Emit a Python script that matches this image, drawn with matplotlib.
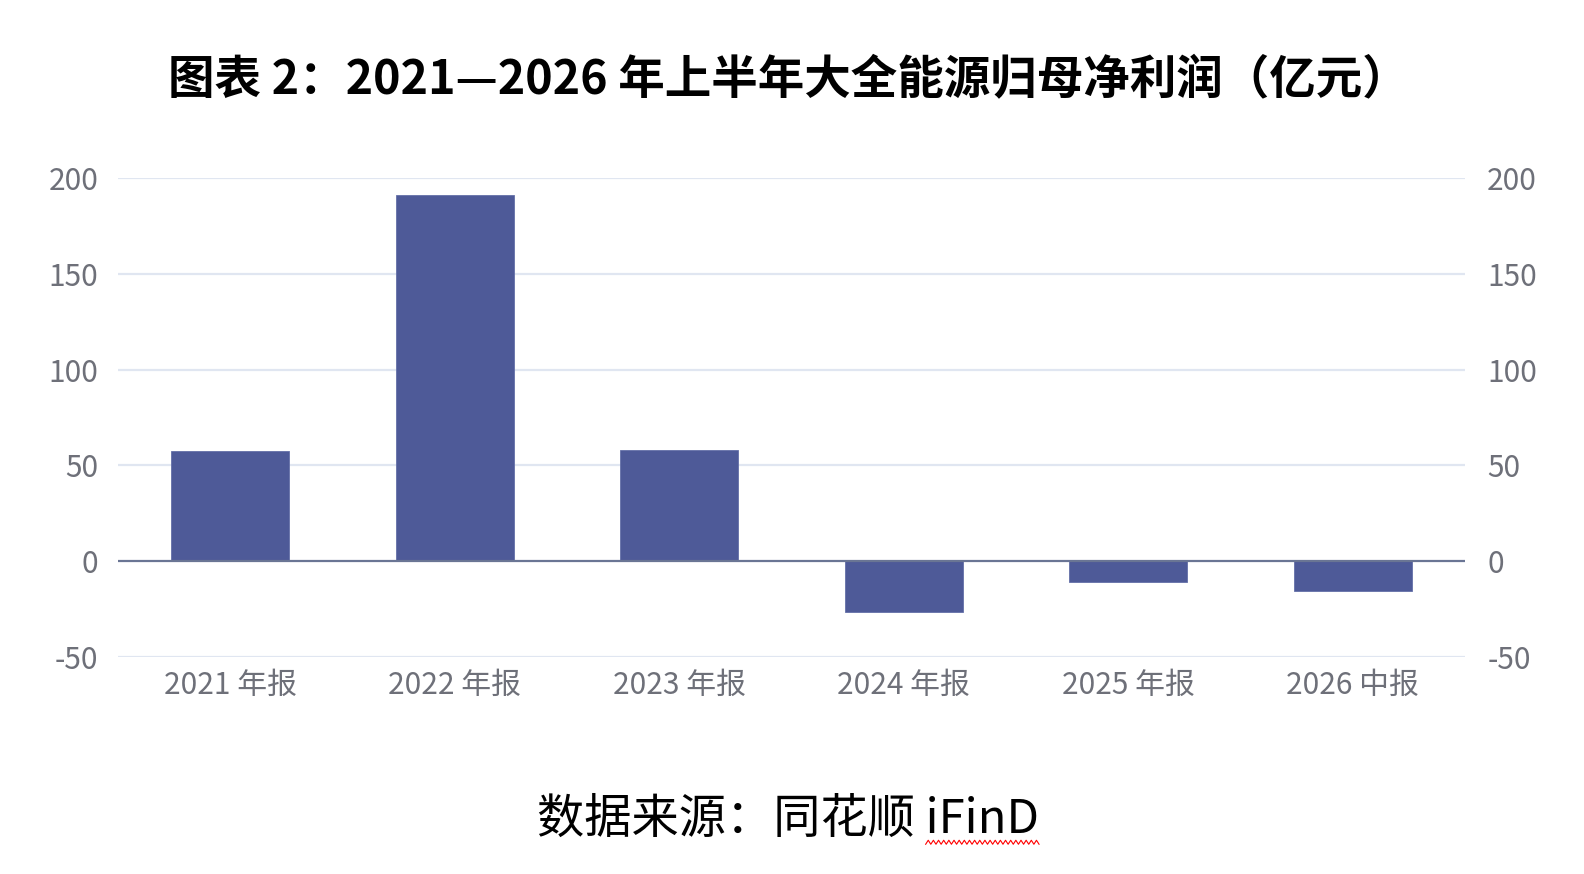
import matplotlib
matplotlib.use("Agg")
import matplotlib.pyplot as plt
import numpy as np

plt.rcParams['font.family'] = ['Noto Sans CJK SC', 'DejaVu Sans']

categories = ["2021 年报", "2022 年报", "2023 年报", "2024 年报", "2025 年报", "2026 中报"]
values = [57.4, 191.0, 58.0, -26.6, -11.0, -15.7]
yticks = [-50, 0, 50, 100, 150, 200]

title = "图表 2：2021—2026 年上半年大全能源归母净利润（亿元）"
source_main = "数据来源：同花顺 "
source_tail = "iFinD"

bar_color = "#4E5A98"
grid_color = "#E0E6F1"
label_color = "#6E7079"

fig = plt.figure(figsize=(15.84, 8.74), dpi=100)
ax = fig.add_axes([118/1584, 1-657/874, (1465-118)/1584, (657-178)/874])

x = np.arange(len(categories))
ax.bar(x, values, width=0.525, color=bar_color, zorder=3, edgecolor="#6470A8", linewidth=0.6)
ax.set_xlim(-0.5, len(categories)-0.5)
ax.set_ylim(-50, 200)
ax.set_yticks(yticks)
ax.set_yticklabels([str(v) for v in yticks])
ax.set_xticks(x)
ax.set_xticklabels(categories)
for v in yticks:
    if v != 0:
        ax.axhline(v, color=grid_color, linewidth=1.6, zorder=1)
ax.axhline(0, color="#6A7594", linewidth=1.6, zorder=4)
for s in ax.spines.values():
    s.set_visible(False)
ax.tick_params(axis='both', length=0, labelsize=21.5, colors=label_color)
ax.tick_params(axis='x', pad=9)
ax.tick_params(axis='y', pad=14)

ax2 = ax.twinx()
ax2.set_ylim(-50, 200)
ax2.set_yticks(yticks)
ax2.set_yticklabels([str(v) for v in yticks])
for s in ax2.spines.values():
    s.set_visible(False)
ax2.tick_params(axis='y', length=0, labelsize=21.5, colors=label_color, pad=16)

fig.text(0.4975, 1-80/874, title, ha='center', va='center', fontsize=33.5,
         fontweight='bold', color='black', family=['Noto Sans CJK SC', 'DejaVu Sans'])
st = fig.text(0.4975, 1-820/874, source_main + source_tail, ha='center', va='center', fontsize=34,
              color='black', family=['Noto Sans CJK SC', 'DejaVu Sans'])

# red wavy spell-check underline beneath "iFinD"
fig.canvas.draw()
r = fig.canvas.get_renderer()
bb = st.get_window_extent(r)
tmp = fig.text(0, 0, source_tail, fontsize=34, family=['Noto Sans CJK SC', 'DejaVu Sans'])
tw = tmp.get_window_extent(r).width
tmp.remove()
x0, x1 = bb.x1 - tw, bb.x1
n = int((x1 - x0) / 2.5)
xs = np.linspace(x0, x1, n)
ys = bb.y0 + 2 + 2.0 * np.where(np.arange(n) % 2 == 0, -1, 1)
fig.add_artist(plt.Line2D(xs, ys, color='red', linewidth=0.8, transform=None))

fig.savefig("out.png", dpi=100)
